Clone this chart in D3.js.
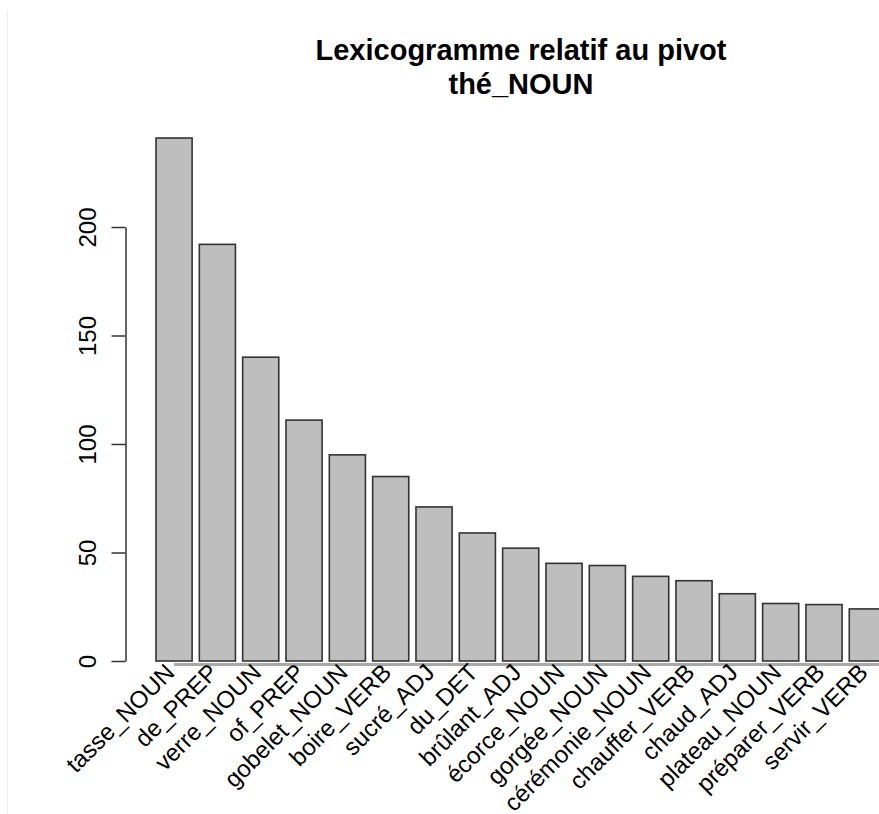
<!DOCTYPE html>
<html lang="fr">
<head>
<meta charset="UTF-8">
<title>Lexicogramme</title>
<script src="https://d3js.org/d3.v7.min.js"></script>
<style>
  body { margin: 0; background: #fff; }
  svg text { font-family: "Liberation Sans", Arial, Helvetica, sans-serif; fill: #000; }
</style>
</head>
<body>
<div id="chart"></div>
<script>
  // data
  var categories = ["tasse_NOUN", "de_PREP", "verre_NOUN", "of_PREP", "gobelet_NOUN",
    "boire_VERB", "sucré_ADJ", "du_DET", "brûlant_ADJ", "écorce_NOUN", "gorgée_NOUN",
    "cérémonie_NOUN", "chauffer_VERB", "chaud_ADJ", "plateau_NOUN", "préparer_VERB", "servir_VERB"];
  var values = [241, 192, 140, 111, 95, 85, 71, 59, 52, 45, 44, 39, 37, 31, 26.5, 26, 24];
  var yTicks = [0, 50, 100, 150, 200];
  var titleLines = ["Lexicogramme relatif au pivot", "thé_NOUN"];

  var W = 879, H = 814;

  var svg = d3.select("#chart")
    .append("svg")
      .attr("width", W)
      .attr("height", H);

  // faint frame line on the left
  svg.append("line")
    .attr("x1", 7.5).attr("x2", 7.5)
    .attr("y1", 10).attr("y2", H)
    .attr("stroke", "#ececec")
    .attr("stroke-width", 1);

  // R barplot: width 1, space 0.2 -> step 1.2
  var step = 43.33;
  var x0 = 156 - step / 6;
  var x = d3.scaleBand()
    .domain(categories)
    .range([x0, x0 + step * (categories.length + 1 / 6)])
    .paddingInner(1 / 6)
    .paddingOuter(1 / 6);

  var y = d3.scaleLinear()
    .domain([0, 200])
    .range([661, 227]);

  // grey line under the bars
  svg.append("line")
    .attr("x1", x(categories[0]) + x.bandwidth() / 2)
    .attr("x2", W)
    .attr("y1", y(0) + 3.5).attr("y2", y(0) + 3.5)
    .attr("stroke", "#a8a8a8")
    .attr("stroke-width", 3);

  svg.selectAll("rect.bar")
    .data(values)
    .enter()
    .append("rect")
      .attr("class", "bar")
      .attr("x", function(d, i) { return x(categories[i]); })
      .attr("y", function(d) { return y(d); })
      .attr("width", x.bandwidth())
      .attr("height", function(d) { return y(0) - y(d); })
      .attr("fill", "#bebebe")
      .attr("stroke", "#333")
      .attr("stroke-width", 1.6);

  // y axis, R style
  var yAxis = d3.axisLeft(y)
    .tickValues(yTicks)
    .tickSize(14)
    .tickSizeOuter(0)
    .tickFormat(d3.format("d"));

  var gy = svg.append("g")
    .attr("transform", "translate(125.5,0)")
    .call(yAxis);
  gy.select(".domain").attr("stroke", "#333").attr("stroke-width", 1.5);
  gy.selectAll(".tick line").attr("stroke", "#333").attr("stroke-width", 1.5);
  gy.selectAll(".tick text")
    .attr("x", null).attr("dy", null)
    .attr("transform", "translate(-30,0) rotate(-90)")
    .attr("text-anchor", "middle")
    .style("font-size", "24px")
    .style("font-family", "'Liberation Sans', Arial, sans-serif")
    .attr("fill", "#000");

  // x labels at 45 degrees
  svg.selectAll("text.xlab")
    .data(categories)
    .enter()
    .append("text")
      .attr("class", "xlab")
      .attr("text-anchor", "end")
      .attr("transform", function(d) {
        return "translate(" + (x(d) + x.bandwidth() / 2 + 2) + ",674) rotate(-45)";
      })
      .style("font-size", "24px")
      .text(function(d) { return d; });

  // title
  svg.selectAll("text.title")
    .data(titleLines)
    .enter()
    .append("text")
      .attr("class", "title")
      .attr("x", 521)
      .attr("y", function(d, i) { return 60 + i * 34; })
      .attr("text-anchor", "middle")
      .style("font-size", "29px")
      .style("font-weight", "bold")
      .text(function(d) { return d; });
</script>
</body>
</html>
